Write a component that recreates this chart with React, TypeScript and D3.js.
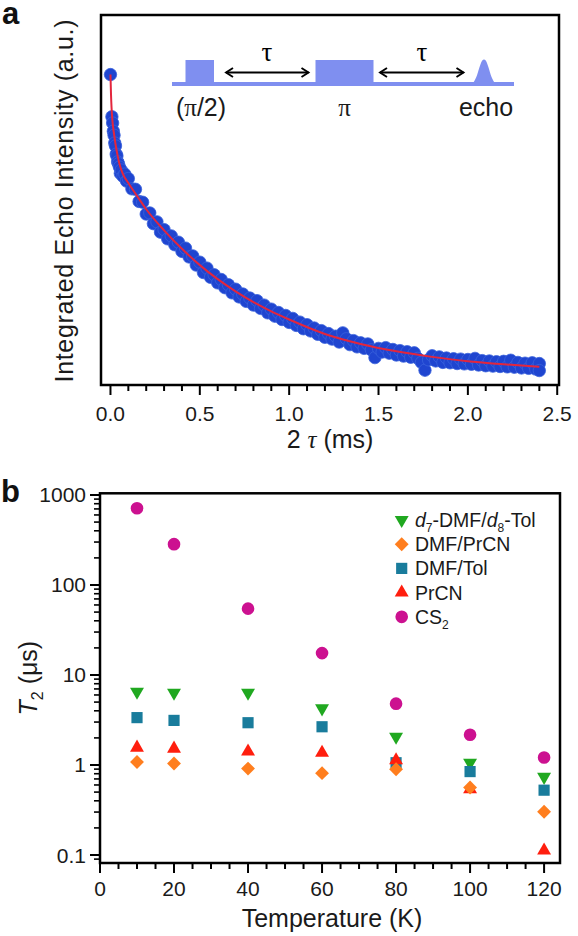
import React from "react";
import * as d3 from "d3";

// ---------- Panel a: Hahn echo decay ----------
const decayTime = [
  0, 0.008, 0.012, 0.016, 0.02, 0.024, 0.028, 0.032, 0.036, 0.04, 0.045, 0.05, 0.055, 0.06, 0.07, 0.08, 0.09, 0.1,
  0.12, 0.14, 0.16, 0.18, 0.2, 0.22, 0.24, 0.26, 0.28, 0.3, 0.32, 0.34, 0.36, 0.38, 0.4, 0.42, 0.44, 0.46, 0.48, 0.5,
  0.52, 0.54, 0.56, 0.58, 0.6, 0.62, 0.64, 0.66, 0.68, 0.7, 0.72, 0.74, 0.76, 0.78, 0.8, 0.82, 0.84, 0.86, 0.88, 0.9,
  0.92, 0.94, 0.96, 0.98, 1.0, 1.02, 1.04, 1.06, 1.08, 1.1, 1.12, 1.14, 1.16, 1.18, 1.2, 1.22, 1.24, 1.26, 1.28, 1.3,
  1.32, 1.34, 1.36, 1.38, 1.4, 1.42, 1.44, 1.46, 1.48, 1.5, 1.52, 1.54, 1.56, 1.58, 1.6, 1.62, 1.64, 1.66, 1.68, 1.7,
  1.72, 1.74, 1.76, 1.78, 1.8, 1.82, 1.84, 1.86, 1.88, 1.9, 1.92, 1.94, 1.96, 1.98, 2.0, 2.02, 2.04, 2.06, 2.08, 2.1,
  2.12, 2.14, 2.16, 2.18, 2.2, 2.22, 2.24, 2.26, 2.28, 2.3, 2.32, 2.34, 2.36, 2.38, 2.4, 2.4,
];
const decayIntensity = [
  83.9, 72.5, 70.8, 68.6, 67.5, 65.4, 64.6, 62.4, 61.9, 60.3, 59.8, 58.9, 57.2, 58.1, 56.4, 57.0, 55.1, 55.8,
  53.0, 52.9, 49.6, 49.4, 46.2, 46.5, 43.6, 44.1, 41.3, 42.0, 39.5, 40.3, 37.9, 38.6, 36.1, 37.0, 34.6, 34.9, 32.4, 33.2,
  30.4, 31.6, 29.1, 29.8, 27.6, 28.5, 26.3, 27.1, 24.9, 25.9, 23.8, 24.6, 22.6, 23.5, 21.6, 22.8, 20.7, 21.6, 19.5, 20.5,
  18.6, 19.6, 17.7, 18.8, 16.9, 18.0, 16.1, 17.0, 15.2, 16.3, 14.6, 15.4, 13.7, 14.7, 12.9, 13.9, 12.4, 13.2, 11.6, 14.1,
  12.5, 10.9, 12.0, 10.3, 11.4, 9.9, 11.1, 9.5, 7.4, 9.9, 8.9, 10.1, 8.6, 9.6, 8.1, 9.3, 7.8, 9.0, 7.5, 8.7,
  7.2, 6.1, 4.0, 6.8, 7.9, 6.5, 7.6, 6.1, 7.3, 6.0, 7.1, 5.8, 7.0, 5.7, 6.9, 5.6, 7.2, 5.4, 6.6, 5.2,
  6.5, 5.1, 6.3, 5.0, 6.4, 4.9, 6.7, 4.8, 6.1, 4.6, 5.9, 4.5, 6.0, 4.3, 5.8, 3.9,
];
const fitTime = [0, 0.003, 0.006, 0.01, 0.02, 0.03, 0.04, 0.05, 0.07, 0.1, 0.15, 0.2, 0.3, 0.4, 0.5, 0.6, 0.7, 0.8, 0.9, 1.0, 1.2, 1.4, 1.6, 1.8, 2.0, 2.2, 2.4];
const fitIntensity = [83.9, 78.5, 75.0, 72.0, 67.8, 64.6, 62.0, 59.8, 57.0, 54.6, 51.0, 47.5, 41.8, 36.8, 32.4, 28.6, 25.3, 22.4, 19.9, 17.7, 13.8, 11.1, 9.1, 7.6, 6.4, 5.6, 4.9];
const timeTicks = [0, 0.5, 1.0, 1.5, 2.0, 2.5];
const timeTickLabels = ["0.0", "0.5", "1.0", "1.5", "2.0", "2.5"];

// ---------- Panel b: T2 vs temperature ----------
const temperatures = [10, 20, 40, 60, 80, 100, 120];
const t2D7 = [6.5, 6.34, 6.34, 4.26, 2.06, 1.06, 0.738];
const t2DmfPrcn = [1.08, 1.04, 0.912, 0.811, 0.898, 0.562, 0.302];
const t2DmfTol = [3.36, 3.13, 2.95, 2.66, 1.06, 0.845, 0.525];
const t2Prcn = [1.56, 1.52, 1.41, 1.37, 1.13, 0.538, 0.112];
const t2Cs2 = [713, 284, 54.6, 17.5, 4.8, 2.17, 1.21];
const tempTicks = [0, 20, 40, 60, 80, 100, 120];
const t2Ticks = [0.1, 1, 10, 100, 1000];
const t2TickLabels = ["0.1", "1", "10", "100", "1000"];

const SANS = "'Liberation Sans', Arial, Helvetica, sans-serif";
const SERIF = "'Liberation Serif', 'Times New Roman', serif";

type Shape = "up" | "down" | "square" | "diamond" | "circle";

const seriesDraw: { key: string; values: number[]; color: string; shape: Shape }[] = [
  { key: "d7", values: t2D7, color: "#20a820", shape: "down" },
  { key: "dmfTol", values: t2DmfTol, color: "#197c9c", shape: "square" },
  { key: "prcn", values: t2Prcn, color: "#ff1e0e", shape: "up" },
  { key: "dmfPrcn", values: t2DmfPrcn, color: "#ff7e1e", shape: "diamond" },
  { key: "cs2", values: t2Cs2, color: "#cc1190", shape: "circle" },
];
const legendOrder = ["d7", "dmfPrcn", "dmfTol", "prcn", "cs2"];

function symbolPath(shape: Shape): { d: string; rot: number } {
  switch (shape) {
    case "up":
      return { d: d3.symbol(d3.symbolTriangle, 84)() as string, rot: 0 };
    case "down":
      return { d: d3.symbol(d3.symbolTriangle, 84)() as string, rot: 180 };
    case "square":
      return { d: d3.symbol(d3.symbolSquare, 125)() as string, rot: 0 };
    case "diamond":
      return { d: d3.symbol(d3.symbolSquare, 96)() as string, rot: 45 };
    default:
      return { d: d3.symbol(d3.symbolCircle, Math.PI * 40)() as string, rot: 0 };
  }
}

function legendLabel(key: string, x: number, y: number) {
  const common = { x, y, fontFamily: SANS, fontSize: 19.5, fill: "#1a1a1a" } as any;
  switch (key) {
    case "d7":
      return (
        <text {...common}>
          <tspan fontStyle="italic">d</tspan>
          <tspan dy={5} fontSize={12}>7</tspan>
          <tspan dy={-5}>-DMF/</tspan>
          <tspan fontStyle="italic">d</tspan>
          <tspan dy={5} fontSize={12}>8</tspan>
          <tspan dy={-5}>-Tol</tspan>
        </text>
      );
    case "dmfPrcn":
      return <text {...common}>DMF/PrCN</text>;
    case "dmfTol":
      return <text {...common}>DMF/Tol</text>;
    case "prcn":
      return <text {...common}>PrCN</text>;
    default:
      return (
        <text {...common}>
          CS<tspan dy={5} fontSize={12}>2</tspan>
        </text>
      );
  }
}

export default function App() {
  const W = 578;
  const H = 936;

  // Panel a geometry
  const aL = 101, aR = 559, aT = 15, aB = 385;
  const xa = d3.scaleLinear().domain([-0.053, 2.51]).range([aL, aR]);
  const ya = d3.scaleLinear().domain([0, 100]).range([aB, aT]);
  const minorA = d3.range(0, 26).map((i) => i / 10);
  const fitLine = d3
    .line<number>()
    .x((_, i) => xa(fitTime[i]))
    .y((d) => ya(d))
    .curve(d3.curveMonotoneX);

  // Panel b geometry
  const bL = 100, bR = 560, bT = 493.3, bB = 863;
  const xb = d3.scaleLinear().domain([0, 124.3]).range([bL, bR]);
  const yb = d3.scaleLog().domain([0.0815, 1044]).range([bB, bT]);
  const minorTempTicks = d3.range(0, 121, 5);
  const minorLog: number[] = [];
  [0.01, 0.1, 1, 10, 100].forEach((dec) => {
    for (let m = 2; m <= 9; m++) {
      const v = dec * m;
      if (v >= 0.0815 && v <= 1044) minorLog.push(v);
    }
  });

  const pulse = "#7f8ff0";
  const legendX = 401.7;
  const legendY0 = 520;
  const legendDy = 24.2;

  return (
    <svg
      width={W}
      height={H}
      viewBox={`0 0 ${W} ${H}`}
      style={{ position: "absolute", left: 0, top: 0, background: "#fff" }}
    >
      <rect x={0} y={0} width={W} height={H} fill="#fff" />

      {/* ================= Panel a ================= */}
      <text x={2} y={24} fontFamily={SANS} fontWeight="bold" fontSize={31} fill="#111">
        a
      </text>

      {/* pulse sequence inset */}
      <g fill={pulse}>
        <rect x={172} y={82} width={342} height={4} />
        <rect x={185.5} y={60} width={28.5} height={25} />
        <rect x={315.5} y={60} width={58} height={25} />
        <path d="M469,85 C478,85 479,59.5 484,59.5 C489,59.5 490,85 499,85 Z" />
      </g>
      <g stroke="#000" strokeWidth={1.9} fill="none">
        <line x1={226} y1={72.5} x2={308.5} y2={72.5} />
        <path d="M233,68 L226,72.5 L233,77" />
        <path d="M301.5,68 L308.5,72.5 L301.5,77" />
        <line x1={380} y1={72.5} x2={463.5} y2={72.5} />
        <path d="M387,68 L380,72.5 L387,77" />
        <path d="M456.5,68 L463.5,72.5 L456.5,77" />
      </g>
      <g fontFamily={SERIF} fontSize={27} textAnchor="middle" fill="#000">
        <text x={267} y={61}>τ</text>
        <text x={422} y={61}>τ</text>
      </g>
      <g fontFamily={SANS} fontSize={25} textAnchor="middle" fill="#1a1a1a">
        <text x={201} y={115.5}>
          (<tspan fontFamily={SERIF}>π</tspan>/2)
        </text>
        <text x={344.5} y={115.5} fontFamily={SERIF}>π</text>
        <text x={486} y={115.5}>echo</text>
      </g>

      {/* data points */}
      <g fill="#1f45d0" stroke="#3a62dc" strokeWidth={0.8}>
        {decayTime.map((t, i) => (
          <circle key={i} cx={xa(t)} cy={ya(decayIntensity[i])} r={6.2} />
        ))}
      </g>
      <path d={fitLine(fitIntensity) as string} fill="none" stroke="#e3263d" strokeWidth={2} />

      {/* frame and ticks */}
      <rect x={aL} y={aT} width={aR - aL} height={aB - aT} fill="none" stroke="#000" strokeWidth={2.5} />
      <g stroke="#000" strokeWidth={2}>
        {minorA.map((t, i) => (
          <line key={i} x1={xa(t)} x2={xa(t)} y1={aB + 1} y2={aB + (i % 5 === 0 ? 10 : 6)} />
        ))}
      </g>
      <g fontFamily={SANS} fontSize={21} textAnchor="middle" fill="#1a1a1a">
        {timeTicks.map((t, i) => (
          <text key={i} x={xa(t)} y={420.5}>
            {timeTickLabels[i]}
          </text>
        ))}
      </g>
      <text x={330} y={448} fontFamily={SANS} fontSize={25} textAnchor="middle" fill="#1a1a1a">
        2 <tspan fontFamily={SERIF} fontStyle="italic">τ</tspan> (ms)
      </text>
      <text
        transform={`translate(73,${(aT + aB) / 2 + 1}) rotate(-90)`}
        fontFamily={SANS}
        fontSize={25}
        textAnchor="middle"
        fill="#1a1a1a"
        textLength={363}
        lengthAdjust="spacing"
      >
        Integrated Echo Intensity (a.u.)
      </text>

      {/* ================= Panel b ================= */}
      <text x={1} y={502} fontFamily={SANS} fontWeight="bold" fontSize={31} fill="#111">
        b
      </text>

      <rect x={bL} y={bT} width={bR - bL} height={bB - bT} fill="none" stroke="#000" strokeWidth={2.5} />
      <g stroke="#000" strokeWidth={2}>
        {minorTempTicks.map((t, i) => (
          <line key={"x" + i} x1={xb(t)} x2={xb(t)} y1={bB + 1} y2={bB + (t % 20 === 0 ? 10 : 6)} />
        ))}
        {t2Ticks.map((v, i) => (
          <line key={"y" + i} x1={bL - 1} x2={bL - 10} y1={yb(v)} y2={yb(v)} />
        ))}
        {minorLog.map((v, i) => (
          <line key={"m" + i} x1={bL - 1} x2={bL - 6} y1={yb(v)} y2={yb(v)} strokeWidth={1.6} />
        ))}
      </g>
      <g fontFamily={SANS} fontSize={21} fill="#1a1a1a">
        {tempTicks.map((t, i) => (
          <text key={i} x={xb(t)} y={895.5} textAnchor="middle">
            {t}
          </text>
        ))}
        {t2Ticks.map((v, i) => (
          <text key={i} x={86} y={yb(v) + 7.5} textAnchor="end">
            {t2TickLabels[i]}
          </text>
        ))}
      </g>
      <text x={332} y={927} fontFamily={SANS} fontSize={25} textAnchor="middle" fill="#1a1a1a">
        Temperature (K)
      </text>
      <text
        transform={`translate(37,${(bT + bB) / 2}) rotate(-90)`}
        fontFamily={SANS}
        fontSize={25}
        textAnchor="middle"
        fill="#1a1a1a"
      >
        <tspan fontStyle="italic">T</tspan>
        <tspan dy={6} fontSize={16}>2</tspan>
        <tspan dy={-6}> (μs)</tspan>
      </text>

      {/* series markers */}
      {seriesDraw.map((s) => {
        const sp = symbolPath(s.shape);
        return (
          <g key={s.key} fill={s.color}>
            {s.values.map((v, i) => (
              <path
                key={i}
                d={sp.d}
                transform={`translate(${xb(temperatures[i])},${yb(v)}) rotate(${sp.rot})`}
              />
            ))}
          </g>
        );
      })}

      {/* legend */}
      {legendOrder.map((key, i) => {
        const s = seriesDraw.find((d) => d.key === key)!;
        const sp = symbolPath(s.shape);
        const cy = legendY0 + i * legendDy;
        return (
          <g key={key}>
            <path d={sp.d} fill={s.color} transform={`translate(${legendX},${cy}) rotate(${sp.rot})`} />
            {legendLabel(key, 415, cy + 7)}
          </g>
        );
      })}
    </svg>
  );
}
